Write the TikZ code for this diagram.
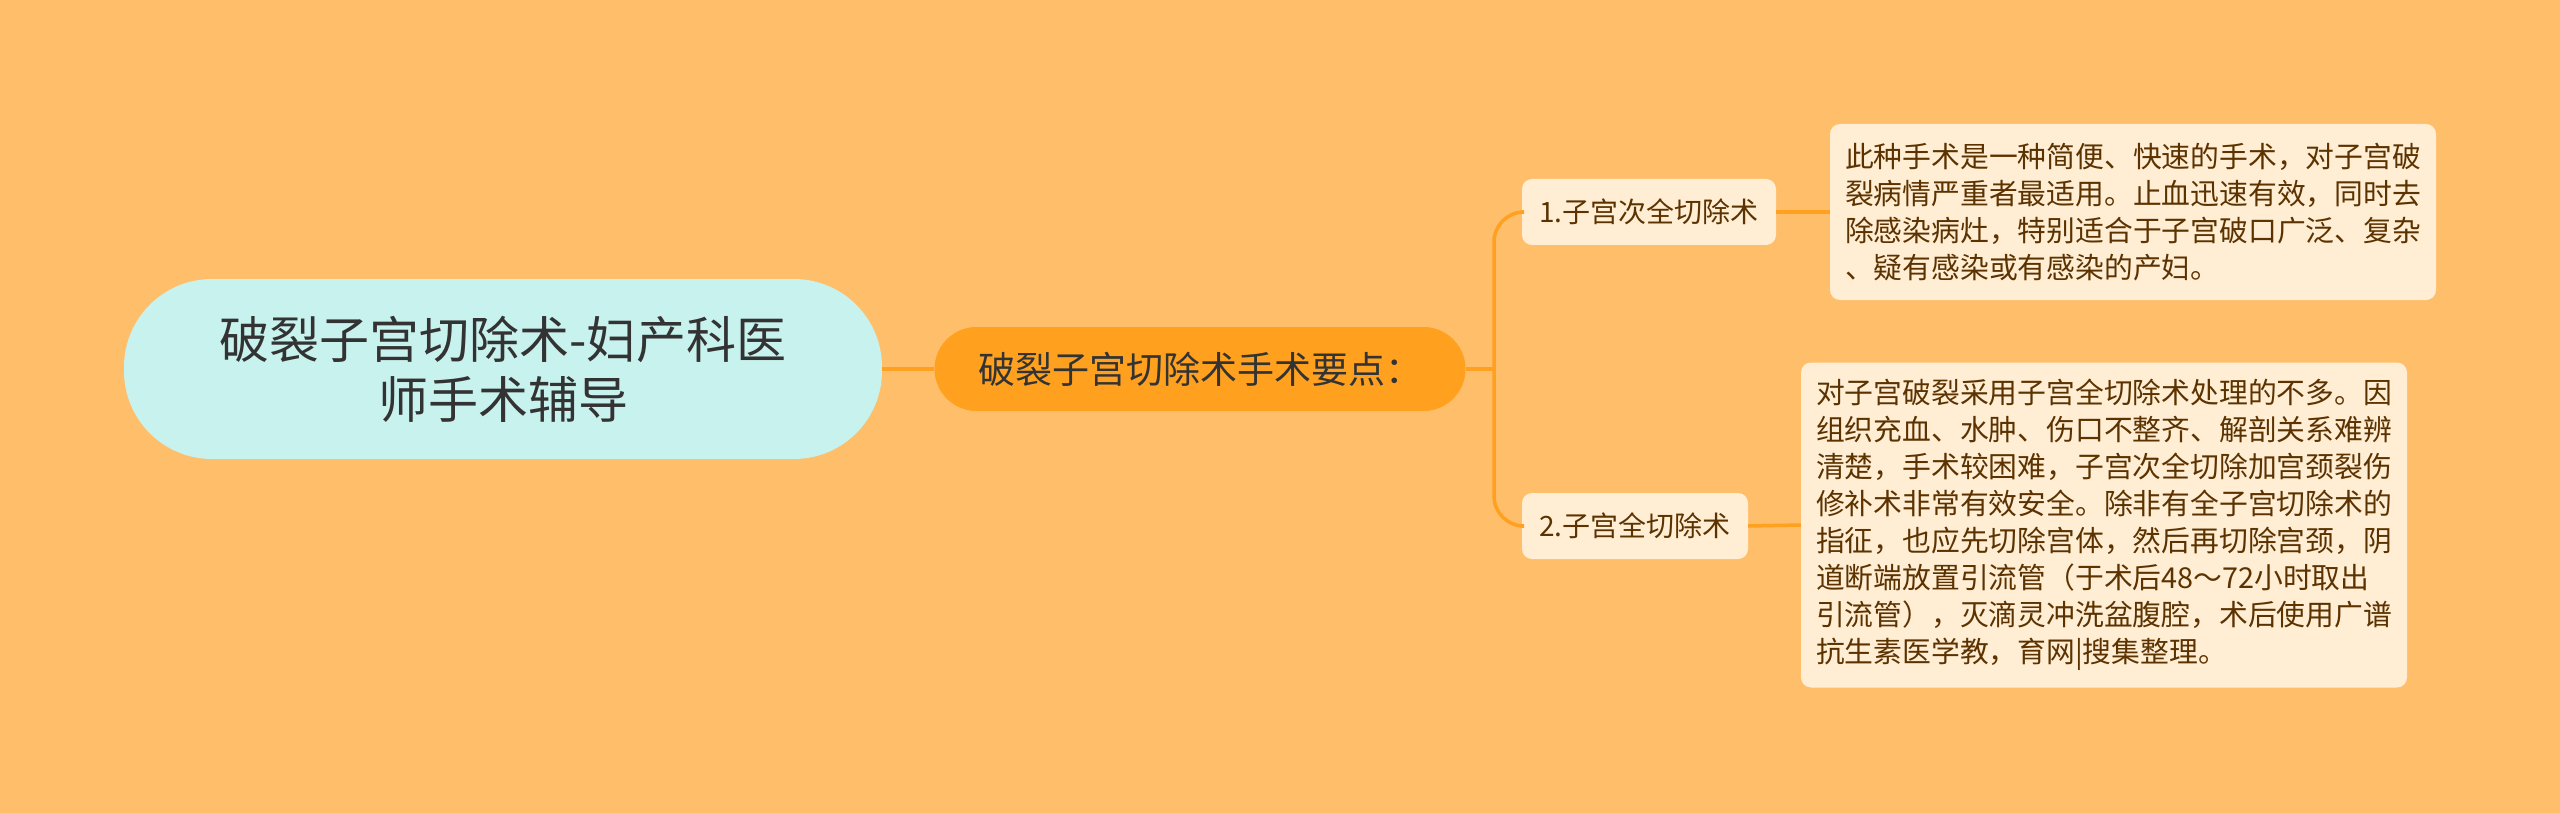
\documentclass[tikz,border=0pt]{standalone}
\usepackage{fontspec}
\setmainfont{Noto Sans CJK SC}

\definecolor{bgc}{HTML}{FFBE6A}
\definecolor{linec}{HTML}{FFA020}
\definecolor{rootc}{HTML}{C8F2EE}
\definecolor{mainc}{HTML}{FFA01E}
\definecolor{leafc}{HTML}{FFEDD4}
\definecolor{darktxt}{HTML}{333333}
\definecolor{browntxt}{HTML}{5C3300}

\tikzset{
  link/.style={draw=linec, line width=3.5pt},
  rootbox/.style={fill=rootc, rounded corners=88pt, minimum width=758pt, minimum height=180pt,
    align=center, text=darktxt, font=\fontsize{50}{60}\selectfont},
  mainbox/.style={fill=mainc, rounded corners=42pt, minimum width=531pt, minimum height=84pt,
    text=darktxt, font=\fontsize{37}{44}\selectfont},
  subbox/.style={fill=leafc, rounded corners=10pt, minimum height=66pt, inner xsep=14pt,
    text=browntxt, font=\fontsize{28}{34}\selectfont},
  notebox/.style={fill=leafc, rounded corners=10pt, inner xsep=15pt, inner ysep=16pt,
    align=left, text=browntxt, font=\fontsize{28.8}{37}\selectfont}
}

\begin{document}
\begin{tikzpicture}[x=1pt,y=-1pt]
\fill[bgc] (0,0) rectangle (2560,813);
\useasboundingbox (0,0) rectangle (2560,813);

\node[rootbox] (root) at (503,369) {破裂子宫切除术-妇产科医\\师手术辅导};
\node[mainbox] (main) at (1200,369) {破裂子宫切除术手术要点：};

\node[subbox, minimum width=254pt] (sub1) at (1649,212) {1.子宫次全切除术};
\node[subbox, minimum width=226pt] (sub2) at (1635,526) {2.子宫全切除术};

\node[notebox, minimum width=606pt, minimum height=176pt] (note1) at (2133,212) {此种手术是一种简便、快速的手术，对子宫破\\裂病情严重者最适用。止血迅速有效，同时去\\除感染病灶，特别适合于子宫破口广泛、复杂\\、疑有感染或有感染的产妇。};
\node[notebox, minimum width=606pt, minimum height=325pt] (note2) at (2104,525) {对子宫破裂采用子宫全切除术处理的不多。因\\组织充血、水肿、伤口不整齐、解剖关系难辨\\清楚，手术较困难，子宫次全切除加宫颈裂伤\\修补术非常有效安全。除非有全子宫切除术的\\指征，也应先切除宫体，然后再切除宫颈，阴\\道断端放置引流管（于术后48～72小时取出\\引流管），灭滴灵冲洗盆腹腔，术后使用广谱\\抗生素医学教，育网|搜集整理。};

\coordinate (fork) at (1494,369);

\draw[link] (root.east) -- (main.west);
\draw[link] (main.east) -- (fork);
\draw[link, rounded corners=30pt] (fork) |- (sub1.west);
\draw[link, rounded corners=30pt] (fork) |- (sub2.west);
\draw[link] (sub1.east) -- (note1.west);
\draw[link] (sub2.east) -- (note2.west);
\end{tikzpicture}
\end{document}
